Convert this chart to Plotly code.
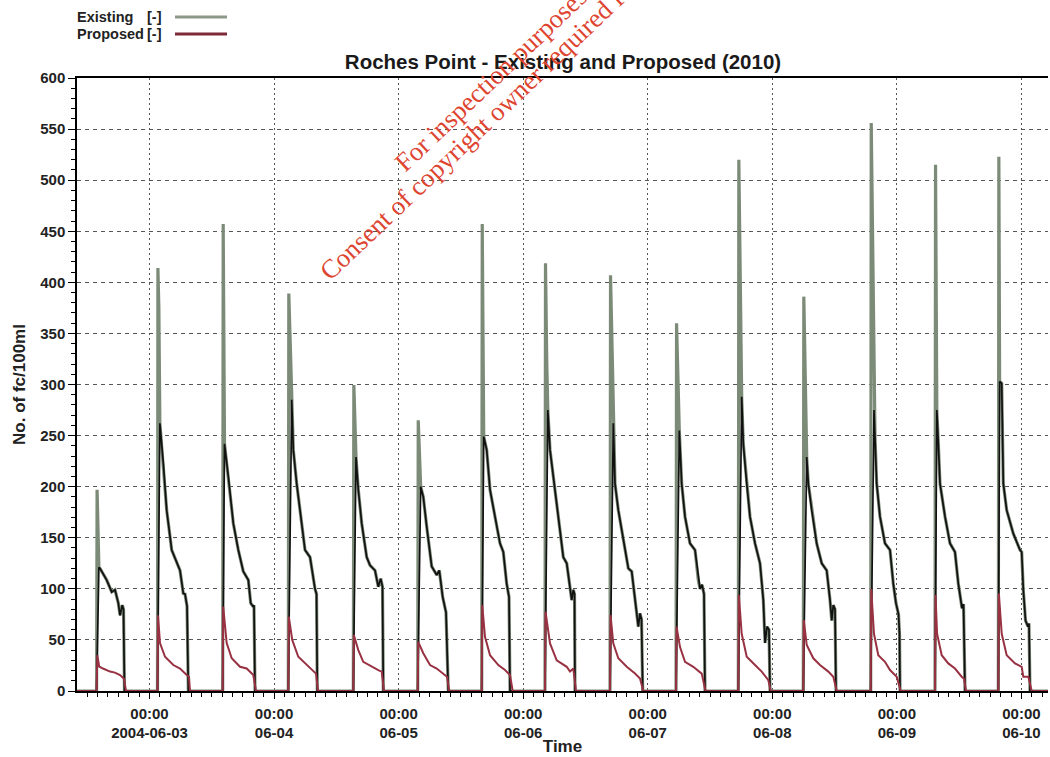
import plotly.graph_objects as go
import pandas as pd

# ---------------- data (hours since 2004-06-03 00:00) ----------------
BASE = pd.Timestamp("2004-06-03 00:00")

# brief peak samples of the Existing series
existing_spike_h = [-10.10, 1.62, 1.80, 14.20, 26.84, 27.10, 39.37, 51.78, 64.11,
                    76.30, 76.55, 88.83, 101.55, 113.55, 126.07, 139.06, 151.45, 163.65]
existing_spike_v = [197, 414, 375, 457, 389, 340, 299.5, 265, 457,
                    418.6, 320, 407, 360, 520, 386, 556, 515, 523]

# remaining samples of the Existing series (decay tails and zero periods)
existing_h = [
    -13.97,
    -10.20, -9.75, -9.54, -8.25, -7.28, -6.65, -6.01, -5.68, -5.24, -5.01, -4.82,
    1.54, 2.00, 2.66, 3.31, 4.28, 5.24, 5.88, 6.51, 6.84, 7.23, 7.48,
    14.10, 14.45, 15.18, 16.15, 17.11, 18.07, 19.04, 19.50, 20.00, 20.13, 20.33,
    26.74, 27.40, 27.71, 28.36, 29.00, 29.96, 30.93, 31.56, 31.89, 32.18, 32.33,
    39.27, 39.79, 40.23, 40.89, 41.85, 42.49, 43.45, 44.08, 44.55, 44.89, 45.05,
    51.68, 52.25, 52.75, 53.41, 54.37, 55.34, 55.84, 56.49, 57.13, 57.57,
    64.01, 64.40, 64.97, 65.61, 66.57, 67.53, 68.17, 68.82, 69.27, 69.46,
    76.20, 76.75, 77.17, 78.13, 79.09, 79.73, 80.39, 80.69, 81.35, 81.66, 81.89, 81.98,
    88.73, 89.36, 89.69, 90.33, 91.29, 92.26, 92.91, 93.55, 94.18, 94.51, 94.80, 95.03,
    101.45, 102.08, 102.54, 103.18, 104.14, 105.11, 105.74, 106.07, 106.46, 106.84, 107.03,
    113.45, 114.10, 114.41, 115.07, 115.70, 116.67, 117.63, 118.27, 118.60, 118.98, 119.36, 119.56,
    125.97, 126.63, 126.94, 127.59, 128.55, 129.52, 130.48, 131.12, 131.45, 131.75, 132.08, 132.27,
    138.96, 139.59, 139.79, 140.11, 140.75, 141.71, 142.68, 143.31, 143.83, 144.32, 144.51, 144.61,
    151.35, 151.70, 151.93, 152.31, 153.28, 154.24, 155.20, 155.84, 156.55, 156.84, 157.13,
    163.55, 163.80, 164.20, 164.51, 165.16, 166.44, 167.73, 168.05, 168.36, 168.79, 169.27, 169.46, 169.65,
    173.12,
]
existing_v = [
    0,
    0, 121, 120, 108.6, 97, 99, 86, 74, 84, 80, 0,
    0, 262, 223, 177, 138, 126.5, 118, 95.5, 95, 83, 0,
    0, 242, 210, 164, 138, 117, 108.6, 86, 82.5, 84, 0,
    0, 285, 236, 203, 177, 138, 131, 108.6, 100, 95, 0,
    0, 229, 197, 164, 131, 123, 118, 102, 110, 102, 0,
    0, 200, 190, 161, 122, 113.5, 118, 92, 77, 0,
    0, 249, 236, 197, 170.6, 144.5, 136, 105, 92, 0,
    0, 275, 236, 197, 154, 131, 125, 115, 89, 99, 95, 0,
    0, 262, 203, 177, 148, 120, 117, 89, 63, 76, 70, 0,
    0, 255, 203, 170.6, 144.5, 138, 108.6, 100, 104, 95, 0,
    0, 288, 242, 203, 170.6, 144.5, 125, 89, 47, 63, 60, 0,
    0, 229, 203, 177, 144.5, 125, 118, 89, 69, 84, 80, 0,
    0, 275, 249, 203, 170.6, 144.5, 138, 105, 86, 75, 56, 0,
    0, 275, 249, 203, 170.6, 144.5, 136, 105, 81, 85, 0,
    0, 303, 301, 203, 177, 154, 138, 136, 99, 69, 63, 66, 0,
    0,
]

proposed_h = [
    -13.97,
    -10.20, -10.05, -9.70, -8.96, -7.61, -6.65, -5.68, -4.91, -4.53,
    1.54, 1.64, 2.02, 2.99, 4.59, 5.88, 7.17, 7.61, 7.80,
    14.10, 14.20, 14.87, 15.84, 17.44, 18.73, 20.00, 20.52,
    26.74, 26.84, 27.50, 28.67, 30.29, 31.56, 32.08, 32.47,
    39.27, 39.37, 40.23, 41.19, 42.81, 44.08, 44.74, 45.18,
    51.68, 51.78, 52.75, 54.05, 55.34, 56.61, 57.32, 57.76,
    64.01, 64.11, 64.64, 65.61, 67.21, 68.50, 69.46, 69.98,
    76.20, 76.30, 77.17, 78.46, 80.39, 81.02, 81.66, 82.18,
    88.73, 88.83, 89.36, 90.33, 91.95, 93.55, 94.51, 95.14,
    101.45, 101.55, 102.22, 103.18, 104.78, 106.40, 107.13,
    113.45, 113.55, 114.10, 115.07, 116.67, 117.96, 119.23, 119.69,
    125.97, 126.07, 126.63, 127.90, 129.19, 130.79, 131.75, 132.41,
    138.96, 139.06, 139.59, 140.42, 141.71, 142.68, 143.97, 144.74,
    151.35, 151.45, 151.75, 152.64, 153.91, 155.20, 156.49, 156.94, 157.32,
    163.55, 163.65, 164.20, 165.16, 166.76, 168.05, 168.36, 169.33, 169.98,
    173.12,
]
proposed_v = [
    0,
    0, 35, 24, 22, 19, 18, 15.6, 12, 0,
    0, 74, 47, 33.5, 25.4, 22, 15.6, 14, 0,
    0, 82.5, 47, 32, 23.7, 22, 15.6, 0,
    0, 72.7, 50, 33.5, 25.4, 19, 17, 0,
    0, 54.7, 40, 28.6, 23.7, 20.5, 19, 0,
    0, 48, 37, 25.4, 22, 17, 14, 0,
    0, 84, 53, 35, 25.4, 20.5, 15.6, 0,
    0, 77.6, 46.6, 30, 23.7, 19, 22, 0,
    0, 74.3, 46.6, 32, 23.7, 17.2, 12.3, 0,
    0, 63, 43, 28.6, 23.7, 17, 0,
    0, 94, 56, 33.5, 25.4, 19, 10.7, 0,
    0, 69.4, 45, 32, 25.4, 19, 14, 0,
    0, 100, 56, 35, 28.6, 20.5, 14, 0,
    0, 94, 56, 35, 27, 22, 14, 12, 0,
    0, 95.5, 56, 35, 27, 23.7, 14, 14, 0,
    0,
]

tick_days = ["2004-06-03", "2004-06-04", "2004-06-05", "2004-06-06",
             "2004-06-07", "2004-06-08", "2004-06-09", "2004-06-10"]
tick_text = ["00:00<br>2004-06-03", "00:00<br>06-04", "00:00<br>06-05", "00:00<br>06-06",
             "00:00<br>06-07", "00:00<br>06-08", "00:00<br>06-09", "00:00<br>06-10"]
x_range_h = [-13.97, 173.12]

title_text = "Roches Point - Existing and Proposed (2010)"
legend_names = ["Existing", "Proposed"]
watermark_lines = ["For inspection purposes only.",
                   "Consent of copyright owner required for any other use."]

# ---------------- helpers ----------------
def to_time(hours):
    return [BASE + pd.Timedelta(hours=h) for h in hours]

full = sorted(zip(existing_h + existing_spike_h, existing_v + existing_spike_v))
full_h = [p[0] for p in full]
full_v = [p[1] for p in full]

W, H = 1050, 757
ML, MR, MT, MB = 77, 2, 78, 66
PW, PH = W - ML - MR, H - MT - MB

def px_x(px):
    return (px - ML) / PW

def px_y(py):
    return (H - MB - py) / PH

GREEN = "#7c8b77"
BLACK = "#111111"
RED = "#983242"
FONT = "Liberation Sans"

fig = go.Figure()
fig.add_trace(go.Scatter(x=to_time(full_h), y=full_v, mode="lines",
                         line=dict(color=GREEN, width=3.2), name=legend_names[0],
                         showlegend=False))
fig.add_trace(go.Scatter(x=to_time(existing_h), y=existing_v, mode="lines",
                         line=dict(color=BLACK, width=1.7), name=legend_names[0],
                         showlegend=False))
fig.add_trace(go.Scatter(x=to_time(proposed_h), y=proposed_v, mode="lines",
                         line=dict(color=RED, width=2), name=legend_names[1],
                         showlegend=False))

fig.update_layout(
    width=W, height=H,
    margin=dict(l=ML, r=MR, t=MT, b=MB),
    paper_bgcolor="white", plot_bgcolor="white",
    showlegend=False,
    title=dict(text=title_text, x=563 / W, xanchor="center", y=1 - 62 / H,
               yanchor="middle", font=dict(family=FONT, size=20.5, color="#1a1a1a", weight="bold")),
    xaxis=dict(
        type="date",
        range=to_time(x_range_h),
        tickmode="array", tickvals=tick_days, ticktext=tick_text,
        ticks="outside", ticklen=6, tickwidth=1, tickcolor="black",
        ticklabelstandoff=2,
        showline=True, linecolor="black", linewidth=1.5, mirror=True,
        showgrid=True, gridcolor="#555555", gridwidth=1, griddash="2px,3px",
        zeroline=False,
        tickfont=dict(family=FONT, size=15, color="#222", weight="bold"),
        minor=dict(tickmode="linear", tick0="2004-06-03", dtick=2 * 3600 * 1000,
                   ticks="outside", ticklen=4, tickcolor="black", showgrid=False),
        title=dict(text="Time", standoff=0,
                   font=dict(family=FONT, size=17, color="#222", weight="bold")),
        automargin=False,
    ),
    yaxis=dict(
        range=[0, 600], tickmode="linear", tick0=0, dtick=50,
        ticks="outside", ticklen=7, tickwidth=1, tickcolor="black",
        showline=True, linecolor="black", linewidth=1.5,
        showgrid=True, gridcolor="#555555", gridwidth=1, griddash="4px,4px",
        zeroline=False,
        tickfont=dict(family=FONT, size=15, color="#222", weight="bold"),
        minor=dict(tickmode="linear", tick0=0, dtick=10, ticks="outside",
                   ticklen=4, tickcolor="black", showgrid=False),
        title=dict(text="No. of fc/100ml", standoff=10,
                   font=dict(family=FONT, size=17, color="#222", weight="bold")),
        automargin=False,
    ),
)

# legend (text left, line sample right)
legend_font = dict(family=FONT, size=14.5, color="#222", weight="bold")
for name, ypx, col in [(legend_names[0], 17, "#8d9889"), (legend_names[1], 34, "#7e2a38")]:
    fig.add_annotation(text=name, x=px_x(75), y=px_y(ypx), xref="paper", yref="paper",
                       xanchor="left", yanchor="middle", showarrow=False, font=legend_font)
    fig.add_annotation(text="[-]", x=px_x(145), y=px_y(ypx), xref="paper", yref="paper",
                       xanchor="left", yanchor="middle", showarrow=False, font=legend_font)
    fig.add_shape(type="line", xref="paper", yref="paper",
                  x0=px_x(175), x1=px_x(227), y0=px_y(ypx), y1=px_y(ypx),
                  line=dict(color=col, width=3))

# watermark
wm_font = dict(family="Liberation Serif", size=26.5, color="#de4530")
fig.add_annotation(text=watermark_lines[0], x=px_x(386), y=px_y(180), xref="paper", yref="paper",
                   xanchor="left", yanchor="bottom", textangle=-43.5, showarrow=False,
                   font=wm_font)
fig.add_annotation(text=watermark_lines[1], x=px_x(311), y=px_y(289), xref="paper", yref="paper",
                   xanchor="left", yanchor="bottom", textangle=-43.5, showarrow=False,
                   font=wm_font)

fig.write_html("out.html", config={"displayModeBar": False},
               post_script="document.body.style.margin='0px';")
